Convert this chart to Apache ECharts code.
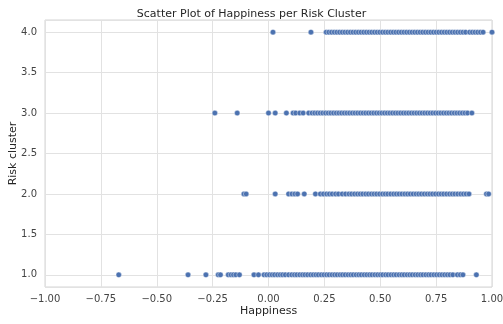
<!DOCTYPE html>
<html>
<head>
<meta charset="utf-8">
<script src="https://cdn.jsdelivr.net/npm/echarts@6/dist/echarts.min.js"></script>
<style>
  html, body { margin: 0; padding: 0; background: #fff; }
  #chart { width: 503px; height: 324px; }
</style>
</head>
<body>
<div id="chart"></div>
<script>
// happiness values, one list per risk cluster
const cluster1 = [-0.67, -0.36, -0.28, -0.225, -0.215, -0.18, -0.168, -0.157, -0.146, -0.13,
  -0.065, -0.045, -0.02, -0.008, 0.004, 0.016, 0.027, 0.04, 0.052, 0.063, 0.075, 0.09, 0.104,
  0.116, 0.127, 0.14, 0.152, 0.163, 0.175, 0.188, 0.2, 0.212, 0.223, 0.236, 0.248, 0.26, 0.271,
  0.284, 0.296, 0.307, 0.32, 0.331, 0.343, 0.356, 0.368, 0.379, 0.392, 0.404, 0.415, 0.428,
  0.44, 0.452, 0.463, 0.476, 0.488, 0.5, 0.511, 0.524, 0.535, 0.548, 0.56, 0.571, 0.584, 0.596,
  0.607, 0.62, 0.632, 0.643, 0.656, 0.668, 0.68, 0.691, 0.704, 0.716, 0.727, 0.74, 0.752, 0.764,
  0.776, 0.788, 0.8, 0.812, 0.825, 0.845, 0.858, 0.87, 0.93];
const cluster2 = [-0.11, -0.1, 0.03, 0.09, 0.105, 0.118, 0.13, 0.16, 0.21, 0.232, 0.246, 0.26,
  0.272, 0.285, 0.3, 0.313, 0.33, 0.345, 0.36, 0.372, 0.385, 0.398, 0.41, 0.422, 0.435, 0.447,
  0.46, 0.472, 0.484, 0.497, 0.51, 0.522, 0.534, 0.547, 0.56, 0.572, 0.584, 0.597, 0.61, 0.622,
  0.634, 0.647, 0.66, 0.672, 0.684, 0.697, 0.71, 0.722, 0.734, 0.747, 0.76, 0.772, 0.784, 0.797,
  0.81, 0.822, 0.834, 0.847, 0.86, 0.872, 0.884, 0.897, 0.975, 0.985];
const cluster3 = [-0.24, -0.14, 0.0, 0.03, 0.08, 0.11, 0.122, 0.14, 0.155, 0.18, 0.195, 0.207,
  0.219, 0.231, 0.243, 0.255, 0.267, 0.279, 0.291, 0.303, 0.315, 0.327, 0.339, 0.351, 0.363,
  0.375, 0.387, 0.399, 0.411, 0.423, 0.435, 0.447, 0.459, 0.471, 0.483, 0.495, 0.507, 0.519,
  0.531, 0.543, 0.555, 0.567, 0.579, 0.591, 0.603, 0.615, 0.627, 0.639, 0.651, 0.663, 0.675,
  0.687, 0.699, 0.711, 0.723, 0.735, 0.747, 0.759, 0.771, 0.783, 0.795, 0.807, 0.819, 0.831,
  0.843, 0.855, 0.867, 0.879, 0.891, 0.91];
const cluster4 = [0.02, 0.19, 0.258, 0.27, 0.282, 0.294, 0.306, 0.318, 0.33, 0.342, 0.354, 0.366,
  0.378, 0.39, 0.402, 0.414, 0.426, 0.438, 0.45, 0.462, 0.474, 0.486, 0.498, 0.51, 0.522, 0.534,
  0.546, 0.558, 0.57, 0.582, 0.594, 0.606, 0.618, 0.63, 0.642, 0.654, 0.666, 0.678, 0.69, 0.702,
  0.714, 0.726, 0.738, 0.75, 0.762, 0.774, 0.786, 0.798, 0.81, 0.822, 0.834, 0.846, 0.858, 0.87,
  0.882, 0.9, 0.912, 0.924, 0.936, 0.948, 0.96, 1.0];

const clusters = [cluster1, cluster2, cluster3, cluster4];

const points = [];
clusters.forEach((vals, i) => {
  vals.forEach(v => points.push([v, i + 1]));
});

const minus = s => s.replace('-', '\u2212');

const chart = echarts.init(document.getElementById('chart'));

const option = {
  animation: false,
  textStyle: { fontFamily: 'DejaVu Sans' },
  title: {
    text: 'Scatter Plot of Happiness per Risk Cluster',
    left: 'center',
    top: 4,
    textStyle: { fontSize: 11, fontWeight: 'normal', color: '#262626' }
  },
  grid: {
    left: 45,
    right: 11,
    top: 20,
    bottom: 37,
    outerBoundsMode: 'none',
    containLabel: false,
    show: true,
    borderColor: '#d4d4d4',
    borderWidth: 1
  },
  xAxis: {
    type: 'value',
    min: -1,
    max: 1,
    interval: 0.25,
    name: 'Happiness',
    nameLocation: 'middle',
    nameGap: 19,
    nameMoveOverlap: false,
    nameTextStyle: { fontSize: 11, color: '#262626' },
    axisLine: { show: false },
    axisTick: { show: false },
    axisLabel: {
      fontSize: 10,
      color: '#444',
      margin: 7,
      formatter: v => minus(v.toFixed(2))
    },
    splitLine: { lineStyle: { color: '#e2e2e2', width: 1 } }
  },
  yAxis: {
    type: 'value',
    min: 0.85,
    max: 4.15,
    name: 'Risk cluster',
    nameLocation: 'middle',
    nameGap: 26,
    nameMoveOverlap: false,
    nameTextStyle: { fontSize: 11, color: '#262626' },
    axisLine: { show: false },
    axisTick: { show: false },
    axisLabel: {
      fontSize: 10,
      color: '#444',
      margin: 8,
      showMinLabel: false,
      showMaxLabel: false,
      formatter: v => v.toFixed(1)
    },
    splitLine: { lineStyle: { color: '#e2e2e2', width: 1 } }
  },
  series: [
    {
      type: 'scatter',
      data: points,
      symbolSize: 5.5,
      itemStyle: {
        color: '#4c72b0',
        borderColor: '#ffffff',
        borderWidth: 0.4,
        opacity: 1
      }
    }
  ]
};

chart.setOption(option);
</script>
</body>
</html>
